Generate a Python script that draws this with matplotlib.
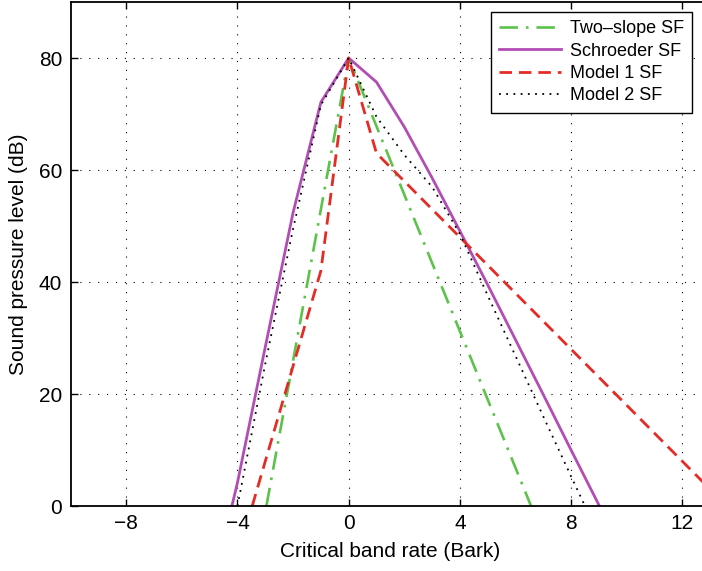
import matplotlib
matplotlib.use('Agg')
import matplotlib.pyplot as plt

plt.rcParams['font.family'] = ['Liberation Sans', 'DejaVu Sans']

# spreading functions, level in dB vs critical band distance in Bark
two_slope_x = [-2.96, 0, 6.56]
two_slope_y = [0, 80, 0]

schroeder_x = [-4.2, -4, -3, -2, -1, 0, 1, 2, 3, 4, 5, 6, 7, 8, 9.02]
schroeder_y = [0, 4.2, 28.4, 52.4, 72.1, 80, 75.7, 67.7, 58.6, 49.1, 39.5, 29.7, 19.9, 10.0, 0]

model1_x = [-3.47, -1, 0, 1, 13]
model1_y = [0, 42, 80, 63, 3]

model2_x = [-4.0, -3, -2, -1, 0, 1, 2, 3, 4, 5, 6, 7, 8, 8.5]
model2_y = [0, 25.4, 49.5, 71.6, 80, 69.5, 62.7, 57, 48.6, 37.6, 26.8, 16, 5.3, 0]

xticks = [-8, -4, 0, 4, 8, 12]
yticks = [0, 20, 40, 60, 80]

fig = plt.figure(figsize=(7.02, 5.71), dpi=100)
ax = fig.add_axes([0.1007, 0.1138, 0.9108, 0.8827])

ax.plot(two_slope_x, two_slope_y, color='#5cc24a', lw=1.9,
        dashes=(7, 3, 1, 3), label='Two–slope SF')
ax.plot(schroeder_x, schroeder_y, color='#b24db4', lw=2.0, label='Schroeder SF')
ax.plot(model1_x, model1_y, color='#e52b25', lw=2.0, dashes=(4.5, 2.5), label='Model 1 SF')
ax.plot(model2_x, model2_y, color='black', lw=1.3, dashes=(1, 3), label='Model 2 SF')

ax.set_xlim(-10, 13)
ax.set_ylim(0, 90)
ax.set_xticks(xticks)
ax.set_yticks(yticks)
ax.tick_params(direction='in', length=5, width=1, labelsize=15,
               top=True, right=True, pad=6)
ax.grid(True, color='black', lw=0.8, linestyle=(0, (1, 7)))
for s in ax.spines.values():
    s.set_linewidth(1.3)

ax.set_xlabel('Critical band rate (Bark)', fontsize=15, labelpad=6)
ax.set_ylabel('Sound pressure level (dB)', fontsize=15, labelpad=8)

leg = ax.legend(loc='upper right', bbox_to_anchor=(0.9717, 0.980),
                borderaxespad=0, fontsize=13, fancybox=False,
                handlelength=3.4, handletextpad=0.5, labelspacing=0.3,
                borderpad=0.45, framealpha=1)
leg.get_frame().set_edgecolor('black')
leg.get_frame().set_linewidth(1.0)

fig.savefig('out.png', dpi=100)
